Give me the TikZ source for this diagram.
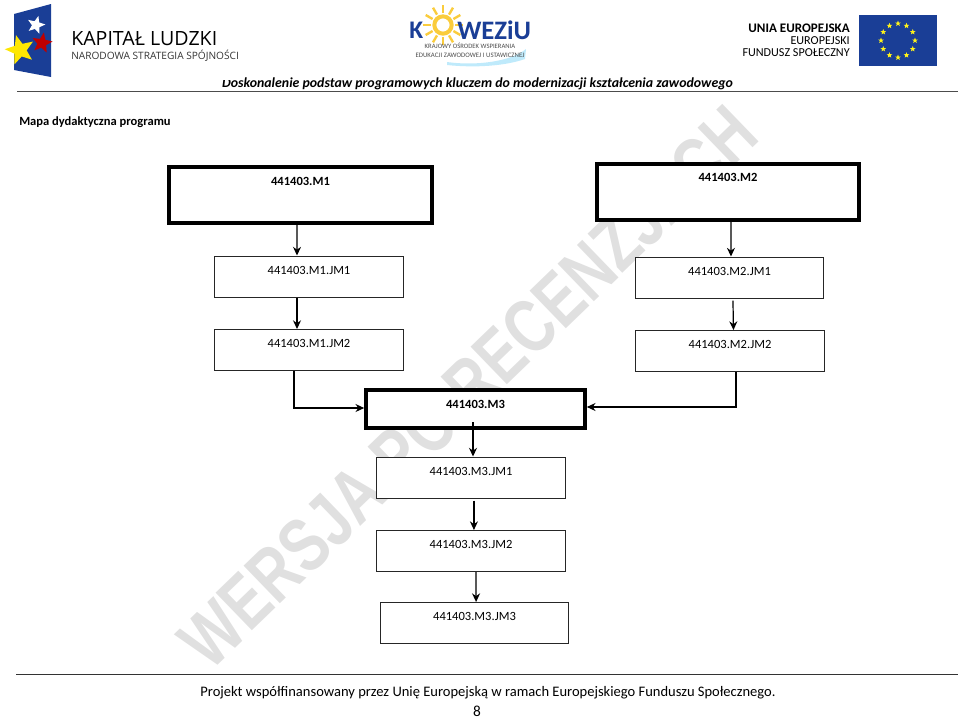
\documentclass[tikz,border=0pt]{standalone}
\usepackage{fontspec}
\setmainfont{Carlito}
\newfontfamily\markfont{Liberation Sans}
\newfontfamily\logofont{Open Sans}
\usetikzlibrary{arrows.meta,shapes.geometric,calc}
\definecolor{flagblue}{RGB}{26,62,150}
\definecolor{sunyellow}{RGB}{250,204,60}
\tikzset{
  jmbox/.style={draw=black!85,fill=white,line width=0.75pt,inner sep=0pt,minimum width=141.5pt,
    text height=13.5pt,text depth=17.25pt,font=\fontsize{9.4}{11}\selectfont},
  modbox/.style={draw,fill=white,line width=3pt,inner sep=0pt,minimum width=197pt,
    text height=14.5pt,text depth=27.5pt,font=\fontsize{9.4}{11}\selectfont\bfseries},
  flow/.style={line width=0.9pt,-{Stealth[length=6.5pt,width=6pt]}},
  euStar/.style={star,star points=5,star point ratio=2.4,fill=#1,inner sep=0pt,minimum size=4.5pt},
  logoStar/.style={star,star points=5,star point ratio=2.3,fill=#1,inner sep=0pt}
}
\begin{document}
\begin{tikzpicture}[x=0.75pt,y=-0.75pt]
\useasboundingbox (0,0) rectangle (960,719);
% watermark
\node[rotate=44,xscale=0.77,text=black!12,font=\fontsize{57}{60}\selectfont\markfont\bfseries] (mark) at (468,387) {WERSJA PO RECENZJACH};
% left logo
\fill[flagblue] (14,14) -- (51,4) -- (51,77) -- (14,70) -- cycle;
\node[logoStar=red!75!black,minimum size=16pt,rotate=-10] (s2) at (42,43) {};
\node[logoStar=white,minimum size=14pt,rotate=-15] (s1) at (36,25) {};
\node[logoStar=yellow!90!orange,minimum size=23pt,rotate=15] (s3) at (20,50) {};
\node[anchor=west,inner sep=0pt,font=\fontsize{14.7}{17}\selectfont\logofont] (kap) at (71,39) {KAPITAŁ LUDZKI};
\node[anchor=west,inner sep=0pt,text=black!80,font=\fontsize{7.6}{9}\selectfont\logofont] (nar) at (71,55.5) {NARODOWA STRATEGIA SPÓJNOŚCI};
% middle logo
\fill[cyan!25] (447,62) .. controls (475,66) and (510,62) .. (526,49) -- (525,59) .. controls (505,66) and (475,68) .. (447,65) -- cycle;
\foreach \a in {0,30,...,330}
  \draw[sunyellow,line width=1.8pt] (443,25) ++(\a:12) -- ++(\a:8);
\node[circle,draw=sunyellow,line width=3pt,fill=white,minimum size=13pt,inner sep=0pt] (sun) at (443,25) {};
\node[anchor=west,inner sep=0pt,text=flagblue,font=\fontsize{19}{20}\selectfont\bfseries] (k) at (409,30) {K};
\node[anchor=west,inner sep=0pt,text=flagblue,font=\fontsize{20}{21}\selectfont\bfseries] (wez) at (457,30) {WEZiU};
\node[inner sep=0pt,text=black!70,font=\fontsize{5}{6}\selectfont] (kra) at (470,46) {KRAJOWY OŚRODEK WSPIERANIA};
\node[inner sep=0pt,text=black!70,font=\fontsize{5.1}{6}\selectfont] (edu) at (470,55.5) {EDUKACJI ZAWODOWEJ I USTAWICZNEJ};
% right logo
\node[anchor=east,inner sep=0pt,font=\fontsize{9.8}{11}\selectfont\bfseries] (unia) at (850,28) {UNIA EUROPEJSKA};
\node[anchor=east,inner sep=0pt,font=\fontsize{9.1}{11}\selectfont] (eur) at (850,41) {EUROPEJSKI};
\node[anchor=east,inner sep=0pt,font=\fontsize{9.1}{11}\selectfont] (fun) at (850,53) {FUNDUSZ SPOŁECZNY};
\fill[flagblue] (859,15) rectangle (937,66);
\foreach \a in {0,30,...,330}
  \node[euStar=yellow!90!white] at ($(898,40.5)+(\a:17)$) {};
% header and footer
\node[inner sep=0pt,font=\fontsize{10.4}{12}\selectfont\itshape\bfseries] (head) at (477.5,83.5) {Doskonalenie podstaw programowych kluczem do modernizacji kształcenia zawodowego};
\fill[white] (221,73) rectangle (242,80);
\draw[black!70,line width=0.6pt] (17,91) -- (958,91);
\node[anchor=west,inner sep=0pt,font=\fontsize{9.4}{11}\selectfont\bfseries] (title) at (19,122.5) {Mapa dydaktyczna programu};
\draw[black!80,line width=0.6pt] (16,674) -- (958,674);
\node[inner sep=0pt,font=\fontsize{10.9}{12}\selectfont] (foot) at (488,693) {Projekt współfinansowany przez Unię Europejską w ramach Europejskiego Funduszu Społecznego.};
\node[inner sep=0pt,font=\fontsize{11.5}{13}\selectfont] (page) at (477,711) {8};
% modules
\node[modbox] (m1) at (300.5,194.5) {441403.M1};
\node[modbox,text height=13pt,text depth=29pt] (m2) at (728,192) {441403.M2};
\node[jmbox] (m1j1) at (309,276.5) {441403.M1.JM1};
\node[jmbox] (m1j2) at (309,350) {441403.M1.JM2};
\node[jmbox] (m2j1) at (729.5,277.5) {441403.M2.JM1};
\node[jmbox] (m2j2) at (730,351) {441403.M2.JM2};
\node[modbox,minimum width=164pt,text height=13.5pt,text depth=15pt] (m3) at (475.5,409) {441403.M3};
\node[jmbox] (m3j1) at (471,477.5) {441403.M3.JM1};
\node[jmbox] (m3j2) at (471,551) {441403.M3.JM2};
\node[jmbox] (m3j3) at (474.5,623) {441403.M3.JM3};
% arrows
\coordinate (m3out) at (473,422);
\draw[flow] ([xshift=-2.6pt]m1.south) -- ([xshift=-9pt]m1j1.north);
\draw[flow] ([xshift=-9pt]m1j1.south) -- ([xshift=-9pt]m1j2.north);
\draw[flow] ([xshift=2.2pt]m2.south) -- ([xshift=1.1pt]m2j1.north);
\draw[flow] ([xshift=2.6pt,yshift=-1.5pt]m2j1.south) -- ([xshift=2.6pt]m2j2.north);
\draw[flow] (m3out) -- ([xshift=1.5pt]m3j1.north);
\draw[flow] ([xshift=2.2pt,yshift=-1.5pt]m3j1.south) -- ([xshift=2.2pt]m3j2.north);
\draw[flow] ([xshift=3.7pt]m3j2.south) -- ([xshift=1.2pt]m3j3.north);
\draw[flow] ([xshift=-11.2pt]m1j2.south) |- ([yshift=0.75pt]m3.west);
\draw[flow] ([xshift=4.5pt]m2j2.south) |- ([yshift=1.5pt]m3.east);
\end{tikzpicture}
\end{document}
